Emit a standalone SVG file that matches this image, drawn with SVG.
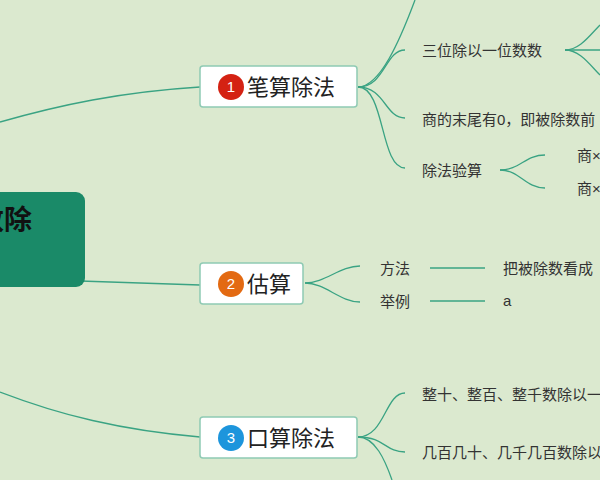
<svg xmlns="http://www.w3.org/2000/svg" width="600" height="480" viewBox="0 0 600 480">
<style>
.c{fill:none;stroke:#3aa383;stroke-width:1.3}
.t{font-family:"Liberation Sans","Noto Sans CJK SC",sans-serif;font-size:15px;fill:#333}
.b{fill:#fff;stroke:#8fcab4;stroke-width:1.5}
.m{font-family:"Liberation Sans","Noto Sans CJK SC",sans-serif;font-size:22px;fill:#222}
.n{font-family:"Liberation Sans",sans-serif;font-size:15px;fill:#fff;text-anchor:middle}
</style>
<rect width="600" height="480" fill="#dbe9cf"/>
<g id="connectors">
<path class="c" d="M0,122 C60,105 120,92 200,87"/>
<path class="c" d="M80,281 L200,285"/>
<path class="c" d="M0,392 C60,415 120,430 200,437"/>
<path class="c" d="M358,87 C380,87 400,40 415,0"/>
<path class="c" d="M358,87 C385,87 385,50 405,50"/>
<path class="c" d="M358,87 C385,87 385,118 405,118"/>
<path class="c" d="M358,87 C385,87 380,168 405,168"/>
<path class="c" d="M565,50 C580,50 590,35 600,25"/>
<path class="c" d="M565,50 H600"/>
<path class="c" d="M565,50 C580,50 590,65 600,75"/>
<path class="c" d="M500,170 C520,170 525,155 545,155"/>
<path class="c" d="M500,170 C520,170 525,188 545,188"/>
<path class="c" d="M305,283 C325,283 340,266 360,266"/>
<path class="c" d="M305,283 C325,283 340,302 360,302"/>
<path class="c" d="M430,268 H485"/>
<path class="c" d="M430,301 H485"/>
<path class="c" d="M358,437 C385,437 385,393 405,393"/>
<path class="c" d="M358,437 C385,437 385,452 405,452"/>
<path class="c" d="M358,437 C375,437 385,460 392,480"/>
</g>
<g id="root">
<rect x="-20" y="192" width="105" height="95" rx="9" fill="#1a8a68"/>
<text x="32" y="230" text-anchor="end" font-family="Liberation Sans,Noto Sans CJK SC,sans-serif" font-size="28" font-weight="bold" fill="#111">数除</text>
</g>
<g id="b1">
<rect class="b" x="200" y="66" width="157" height="41" rx="3"/>
<circle cx="231" cy="87" r="13" fill="#d42213"/><text class="n" x="231" y="92">1</text>
<text class="m" x="247" y="95">笔算除法</text>
</g>
<g id="b2">
<rect class="b" x="200" y="263" width="103" height="41" rx="3"/>
<circle cx="231" cy="284" r="13" fill="#e36a12"/><text class="n" x="231" y="289">2</text>
<text class="m" x="247" y="292">估算</text>
</g>
<g id="b3">
<rect class="b" x="200" y="417" width="157" height="41" rx="3"/>
<circle cx="231" cy="438" r="13" fill="#1d95dc"/><text class="n" x="231" y="443">3</text>
<text class="m" x="247" y="446">口算除法</text>
</g>
<g id="leaves">
<text class="t" x="422" y="56">三位除以一位数数</text>
<text class="t" x="422" y="125">商的末尾有0，即被除数前</text>
<text class="t" x="422" y="176">除法验算</text>
<text class="t" x="577" y="161">商×</text>
<text class="t" x="577" y="194">商×</text>
<text class="t" x="380" y="274">方法</text>
<text class="t" x="380" y="307">举例</text>
<text class="t" x="503" y="274">把被除数看成</text>
<text class="t" x="503" y="306" font-size="13">a</text>
<text class="t" x="422" y="400">整十、整百、整千数除以一</text>
<text class="t" x="422" y="458">几百几十、几千几百数除以</text>
</g>
</svg>
